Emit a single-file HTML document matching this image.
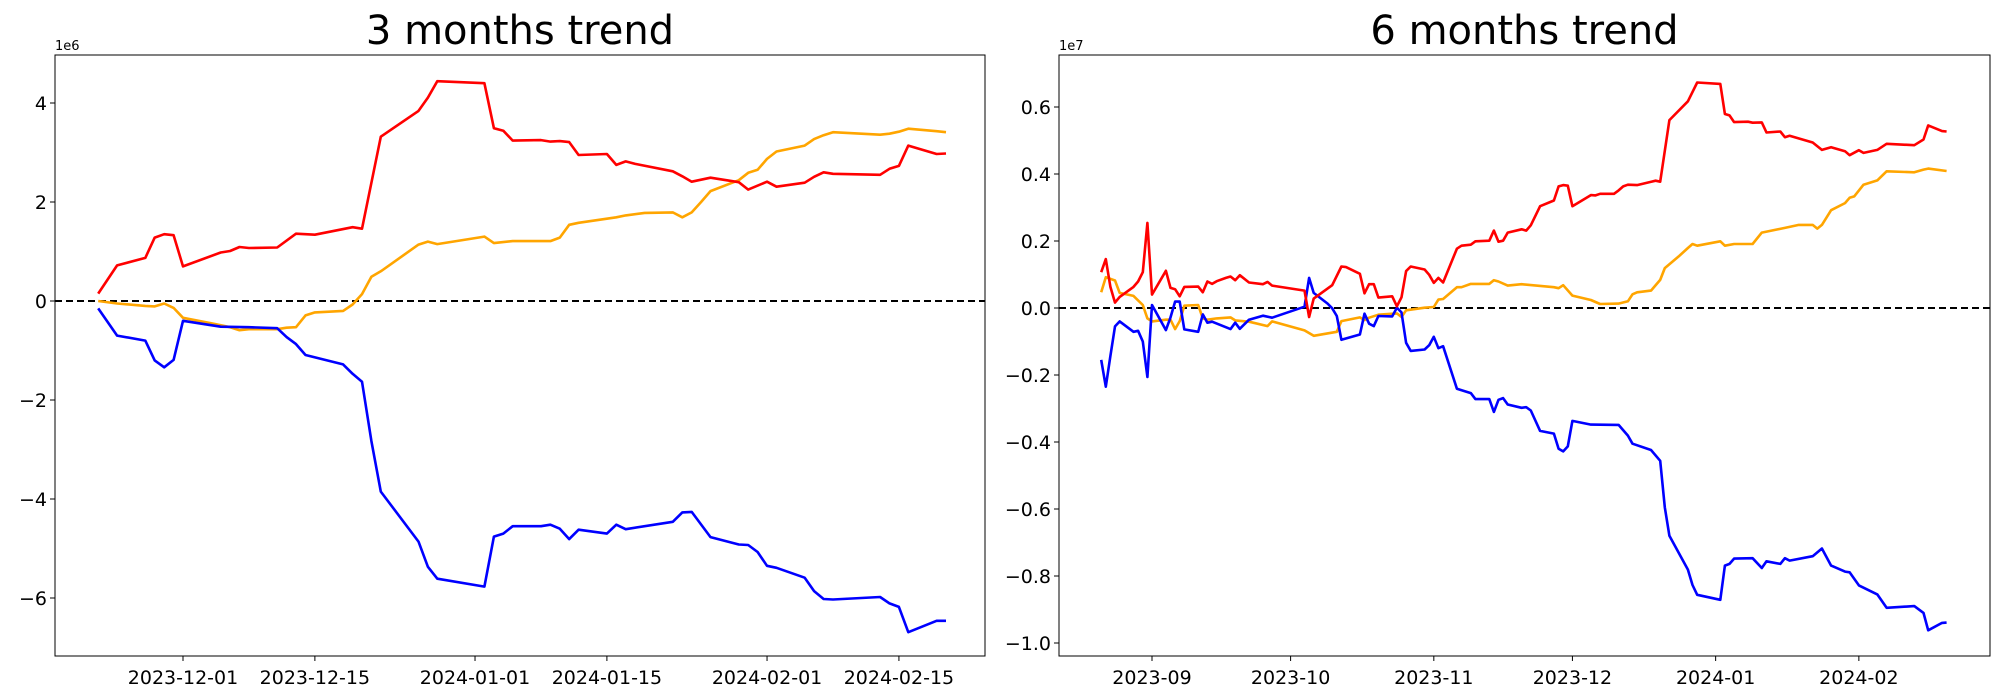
<!DOCTYPE html>
<html><head><meta charset="utf-8"><style>
html,body{margin:0;padding:0;background:#fff;}
svg{display:block;font-family:"DejaVu Sans","Liberation Sans",sans-serif;}
</style></head><body>
<svg id="chart" width="2000" height="700" viewBox="0 0 2000 700" xmlns="http://www.w3.org/2000/svg">
<g id="left"></g>
<g id="right"></g>
</svg>
<script>
// ---- 3 months data (day offset from 2023-12-01, value in 1e6) ----
const l3RedDays=[-9,-7,-4,-3,-2,-1,0,4,5,6,7,10,12,14,18,19,21,25,26,27,32,33,34,35,38,39,40,41,42,45,46,47,48,52,53,54,56,59,60,62,63,66,67,68,69,74,75,76,77,80,81];
const l3RedVals=[0.15,0.72,0.87,1.28,1.35,1.33,0.70,0.98,1.01,1.09,1.07,1.08,1.36,1.34,1.49,1.46,3.32,3.84,4.11,4.44,4.40,3.49,3.44,3.24,3.25,3.22,3.23,3.21,2.95,2.97,2.75,2.82,2.77,2.62,2.52,2.41,2.49,2.40,2.25,2.41,2.31,2.39,2.51,2.60,2.57,2.55,2.67,2.73,3.14,2.97,2.98];
const l3OrgDays=[-9,-7,-4,-3,-2,-1,0,3,5,6,7,10,11,12,13,14,17,18,19,20,21,25,26,27,32,33,35,39,40,41,42,46,47,49,52,53,54,55,56,59,60,61,62,63,66,67,68,69,74,75,76,77,80,81];
const l3OrgVals=[0,-0.05,-0.10,-0.11,-0.05,-0.14,-0.34,-0.45,-0.53,-0.59,-0.57,-0.57,-0.54,-0.53,-0.29,-0.23,-0.20,-0.07,0.14,0.49,0.60,1.14,1.20,1.15,1.30,1.17,1.21,1.21,1.28,1.54,1.58,1.69,1.73,1.78,1.79,1.69,1.79,2.0,2.22,2.44,2.59,2.65,2.87,3.02,3.14,3.27,3.35,3.41,3.36,3.38,3.42,3.48,3.43,3.41];
const l3BlueDays=[-9,-7,-4,-3,-2,-1,0,4,7,10,11,12,13,17,18,19,20,21,25,26,27,32,33,34,35,38,39,40,41,42,45,46,47,52,53,54,56,59,60,61,62,63,66,67,68,69,74,75,76,77,80,81];
const l3BlueVals=[-0.15,-0.70,-0.80,-1.20,-1.34,-1.19,-0.40,-0.52,-0.53,-0.55,-0.73,-0.87,-1.09,-1.28,-1.47,-1.63,-2.83,-3.85,-4.86,-5.37,-5.61,-5.77,-4.76,-4.70,-4.55,-4.55,-4.52,-4.60,-4.81,-4.62,-4.70,-4.52,-4.61,-4.46,-4.27,-4.26,-4.77,-4.92,-4.93,-5.07,-5.35,-5.39,-5.59,-5.86,-6.02,-6.03,-5.98,-6.11,-6.18,-6.69,-6.46,-6.46];
const l3XTickDays=[0,14,31,45,62,76];
const l3XTickLabels=["2023-12-01","2023-12-15","2024-01-01","2024-01-15","2024-02-01","2024-02-15"];
const l3YTicks=[4,2,0,-2,-4,-6];
const l3YTickLabels=["4","2","0","\u22122","\u22124","\u22126"];

// ---- 6 months data (day offset from 2023-09-01, value in 1e7) ----
const r6RedDays=[-11,-10,-9,-8,-7,-4,-3,-2,-1,0,3,4,5,6,7,10,11,12,13,14,16,17,18,19,21,24,25,26,33,34,35,39,41,42,45,46,47,48,49,52,53,54,55,56,59,60,61,62,63,66,67,69,70,73,74,75,76,77,80,81,82,84,87,88,89,90,91,95,96,97,100,101,102,103,105,109,110,112,116,118,123,124,125,126,129,130,132,133,136,137,138,143,145,147,150,151,153,154,157,159,165,167,168,171,172];
const r6RedVals=[0.107,0.146,0.063,0.016,0.033,0.063,0.079,0.107,0.254,0.040,0.111,0.060,0.056,0.035,0.063,0.064,0.047,0.079,0.072,0.080,0.090,0.094,0.083,0.098,0.076,0.071,0.078,0.067,0.052,-0.027,0.028,0.068,0.124,0.122,0.102,0.044,0.071,0.071,0.031,0.035,0.005,0.032,0.110,0.124,0.115,0.099,0.075,0.090,0.076,0.177,0.186,0.189,0.199,0.201,0.231,0.198,0.201,0.225,0.235,0.231,0.247,0.304,0.321,0.363,0.367,0.365,0.304,0.337,0.336,0.341,0.341,0.351,0.363,0.368,0.367,0.380,0.377,0.561,0.617,0.673,0.669,0.579,0.575,0.555,0.556,0.553,0.554,0.524,0.527,0.510,0.514,0.494,0.472,0.480,0.468,0.456,0.471,0.463,0.472,0.490,0.486,0.503,0.545,0.528,0.527];
const r6OrgDays=[-11,-10,-8,-7,-4,-2,-1,0,3,4,5,6,7,10,11,12,14,17,18,21,25,26,33,35,40,41,45,46,47,49,53,54,55,59,61,62,63,66,67,69,73,74,75,77,80,87,88,89,91,95,97,101,103,104,105,108,110,111,114,116,117,118,123,124,126,130,132,137,140,143,144,145,147,150,151,152,154,157,159,165,167,168,172];
const r6OrgVals=[0.047,0.092,0.082,0.045,0.036,0.009,-0.031,-0.040,-0.035,-0.035,-0.063,-0.039,0.007,0.009,-0.031,-0.035,-0.031,-0.028,-0.037,-0.041,-0.054,-0.040,-0.067,-0.083,-0.071,-0.039,-0.028,-0.036,-0.029,-0.020,-0.016,-0.027,-0.007,0.001,0.003,0.025,0.027,0.062,0.062,0.072,0.072,0.083,0.079,0.067,0.071,0.062,0.059,0.068,0.037,0.024,0.012,0.013,0.020,0.041,0.047,0.052,0.084,0.119,0.154,0.179,0.191,0.186,0.199,0.186,0.191,0.191,0.225,0.239,0.248,0.248,0.237,0.248,0.292,0.313,0.329,0.333,0.368,0.381,0.408,0.405,0.413,0.416,0.409];
const r6BlueDays=[-11,-10,-9,-8,-7,-4,-3,-2,-1,0,3,4,5,6,7,10,11,12,13,17,18,19,21,24,26,33,34,35,38,39,40,41,45,46,47,48,49,52,53,54,55,56,59,60,61,62,63,66,69,70,73,74,75,76,77,80,81,82,84,87,88,89,90,91,95,101,103,104,108,110,111,112,116,117,118,123,124,125,126,130,132,133,136,137,138,143,145,147,150,151,153,157,159,165,167,168,171,172];
const r6BlueVals=[-0.155,-0.235,-0.143,-0.055,-0.040,-0.071,-0.068,-0.100,-0.206,0.009,-0.066,-0.028,0.019,0.019,-0.064,-0.071,-0.019,-0.044,-0.041,-0.063,-0.044,-0.062,-0.035,-0.023,-0.029,0.004,0.090,0.045,0.013,-0.001,-0.024,-0.095,-0.079,-0.017,-0.047,-0.054,-0.024,-0.025,0.001,-0.013,-0.104,-0.128,-0.124,-0.111,-0.086,-0.120,-0.114,-0.241,-0.254,-0.272,-0.272,-0.310,-0.274,-0.269,-0.288,-0.298,-0.296,-0.306,-0.367,-0.375,-0.420,-0.428,-0.413,-0.337,-0.348,-0.349,-0.381,-0.405,-0.424,-0.456,-0.595,-0.680,-0.781,-0.827,-0.856,-0.871,-0.769,-0.764,-0.748,-0.747,-0.776,-0.756,-0.764,-0.747,-0.754,-0.741,-0.718,-0.769,-0.787,-0.789,-0.828,-0.855,-0.895,-0.890,-0.910,-0.962,-0.940,-0.939];
const r6XTickDays=[0,30,61,91,122,153];
const r6XTickLabels=["2023-09","2023-10","2023-11","2023-12","2024-01","2024-02"];
const r6YTicks=[0.6,0.4,0.2,0,-0.2,-0.4,-0.6,-0.8,-1.0];
const r6YTickLabels=["0.6","0.4","0.2","0.0","\u22120.2","\u22120.4","\u22120.6","\u22120.8","\u22121.0"];

const NS="http://www.w3.org/2000/svg";
function mk(parent,tag,attrs){const e=document.createElementNS(NS,tag);for(const k in attrs)e.setAttribute(k,attrs[k]);parent.appendChild(e);return e;}

function panel(g,cfg){
  const {x0,x1,y0,y1,xs,ys,title,exp}=cfg;
  const clipId=cfg.id+"-clip";
  const cp=mk(g,"clipPath",{id:clipId});mk(cp,"rect",{x:x0,y:y0,width:x1-x0,height:y1-y0});
  const t=mk(g,"text",{x:(x0+x1)/2,y:44,"text-anchor":"middle","font-size":40,fill:"#000"});
  t.textContent=title;
  
  
  const ex=mk(g,"text",{x:x0,y:50,"font-size":13,fill:"#000"});ex.textContent=exp;
  
  
  cfg.yt.forEach((v,i)=>{const y=ys(v);
    mk(g,"line",{x1:x0-5,x2:x0,y1:y,y2:y,stroke:"#000","stroke-width":1});
    const tx=mk(g,"text",{x:x0-8,y:y+7,"text-anchor":"end","font-size":19,fill:"#000"});tx.textContent=cfg.ytl[i];
    
    
  });
  cfg.xt.forEach((d,i)=>{const x=xs(d);
    mk(g,"line",{x1:x,x2:x,y1:y1,y2:y1+5,stroke:"#000","stroke-width":1});
    const tx=mk(g,"text",{x:x,y:y1+28,"text-anchor":"middle","font-size":19,fill:"#000"});tx.textContent=cfg.xtl[i];
    
    
  });
  const zl=mk(g,"line",{x1:x0,x2:x1,y1:ys(0),y2:ys(0),stroke:"#000","stroke-width":2,"stroke-dasharray":"7,4","clip-path":"url(#"+clipId+")"});
  
  
  cfg.series.forEach(s=>{
    const pts=s.d.map((d,i)=>xs(d).toFixed(1)+","+ys(s.v[i]).toFixed(1)).join(" ");
    const p=mk(g,"polyline",{points:pts,fill:"none",stroke:s.c,"stroke-width":2.6,"stroke-linejoin":"round","clip-path":"url(#"+clipId+")"});
    
    
  });
  const fr=mk(g,"rect",{x:x0,y:y0,width:x1-x0,height:y1-y0,fill:"none",stroke:"#000","stroke-width":1});
  
  
}

panel(document.getElementById("left"),{id:"l3",x0:55,x1:985,y0:55,y1:656,
  xs:d=>183+d*9.42, ys:v=>301-v*49.5, title:"3 months trend", exp:"1e6",
  xt:l3XTickDays,xtl:l3XTickLabels,yt:l3YTicks,ytl:l3YTickLabels,
  series:[{d:l3OrgDays,v:l3OrgVals,c:"orange",n:"orange-series-3m"},{d:l3BlueDays,v:l3BlueVals,c:"blue",n:"blue-series-3m"},{d:l3RedDays,v:l3RedVals,c:"red",n:"red-series-3m"}]});
panel(document.getElementById("right"),{id:"r6",x0:1059,x1:1990,y0:55,y1:656,
  xs:d=>1152+d*4.62, ys:v=>308-v*335, title:"6 months trend", exp:"1e7",
  xt:r6XTickDays,xtl:r6XTickLabels,yt:r6YTicks,ytl:r6YTickLabels,
  series:[{d:r6OrgDays,v:r6OrgVals,c:"orange",n:"orange-series-6m"},{d:r6BlueDays,v:r6BlueVals,c:"blue",n:"blue-series-6m"},{d:r6RedDays,v:r6RedVals,c:"red",n:"red-series-6m"}]});
</script>
</body></html>
